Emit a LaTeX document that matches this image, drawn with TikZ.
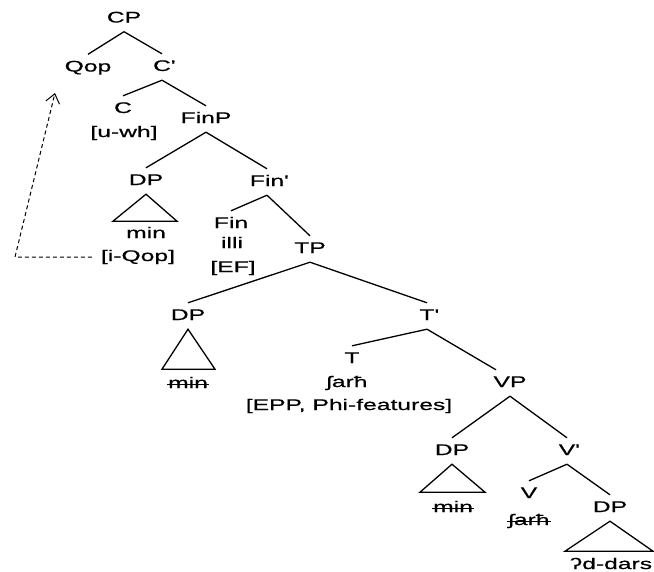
\documentclass[tikz,border=0pt]{standalone}
\usepackage{fontspec}
\setmainfont{Liberation Sans}[FakeStretch=1.6,FakeBold=0.6,Ligatures=TeXOff]
\usetikzlibrary{arrows.meta}
% draws a line through a node's text (lower copies)
\newcommand\strikenode[1]{\draw[line width=1pt] ([yshift=4pt]#1.base west) -- ([yshift=4pt]#1.base east);}
% straight prime mark placed after a category label
\newcommand\barmark{\rlap{'}}
\begin{document}
\begin{tikzpicture}[x=1pt,y=-1pt,
  every node/.style={font=\fontsize{15.4}{18}\selectfont, inner xsep=1pt, inner ysep=6pt,
    text height=11pt, text depth=3pt, anchor=base},
  branch/.style={line width=1.3pt},
  tri/.style={line width=1.3pt, line join=miter},
  move/.style={line width=1pt, dash pattern=on 4pt off 3pt,
    -{Straight Barb[length=9pt,width=14pt,line width=1pt]}}]
\useasboundingbox[fill=white] (0,0) rectangle (654,571);

% CP layer
\node (cp)   at (124,22.5) {CP};
\node (qop)  at (88,71.5)  {Qop};
\node (cbar) at (162,71)   {C\barmark};
\node (c)    at (123,113)  {C};
\node        at (124,137)  {[u-wh]};
\node (finp) at (206,123)  {FinP};

% FinP layer
\node (dpa)    at (146,185) {DP};
\node (minA)   at (146,238) {min};
\node (iq)     at (138,261) {[i-Qop]};
\node (finbar) at (267,186) {Fin\barmark};
\node (fin)    at (231,228) {Fin};
\node          at (232,248) {illi};
\node          at (233,272) {[EF]};
\node (tp)     at (310,253) {TP};

% TP layer
\node (dpb)  at (188,320) {DP};
\node (minB) at (188,388) {min};
\node (tbar) at (427,320) {T\barmark};
\node (t)    at (352,363) {T};
\node        at (347,387) {ʃarħ};
\node        at (349,410) {[EPP, Phi-features]};
\node (vp)   at (510,387) {VP};

% VP layer
\node (dpc)   at (452,455) {DP};
\node (minC)  at (453,512) {min};
\node (vbar)  at (567,455) {V\barmark};
\node (v)     at (529,498) {V};
\node (sarhV) at (529,525) {ʃarħ};
\node (dpd)   at (610,512) {DP};
\node (obj)   at (611,569) {ʔd-dars};

% branches
\draw[branch] (cp.south) -- (qop.north);
\draw[branch] (cp.south) -- (cbar.north);
\draw[branch] (cbar.south) -- (c.north);
\draw[branch] (cbar.south) -- (finp.north);
\draw[branch] (finp.south) -- (dpa.north);
\draw[branch] (finp.south) -- (finbar.north);
\draw[branch] (finbar.south) -- (fin.north);
\draw[branch] (finbar.south) -- (tp.north);
\draw[branch] (tp.south) -- (dpb.north);
\draw[branch] (tp.south) -- (tbar.north);
\draw[branch] (tbar.south) -- (t.north);
\draw[branch] (tbar.south) -- ([xshift=-14pt]vp.north);
\draw[branch] (vp.south) -- (dpc.north);
\draw[branch] (vp.south) -- (vbar.north);
\draw[branch] (vbar.south) -- (v.north);
\draw[branch] (vbar.south) -- (dpd.north);

% triangles
\draw[tri] (dpa.south) -- ++(-33,27) -- ++(64,0) -- cycle;
\draw[tri] (dpb.south) -- ++(-26,40) -- ++(53,0) -- cycle;
\draw[tri] (dpc.south) -- ++(-32,28) -- ++(65,0) -- cycle;
\draw[tri] (dpd.south) -- ++(-45,30) -- ++(88,0) -- cycle;

% deleted copies
\strikenode{minB}
\strikenode{minC}
\strikenode{sarhV}

% operator movement
\coordinate (corner) at (15,257);
\coordinate (tip) at (55,93);
\draw[move] ([xshift=-8pt]iq.west) -- (corner) -- (tip);
\end{tikzpicture}
\end{document}
